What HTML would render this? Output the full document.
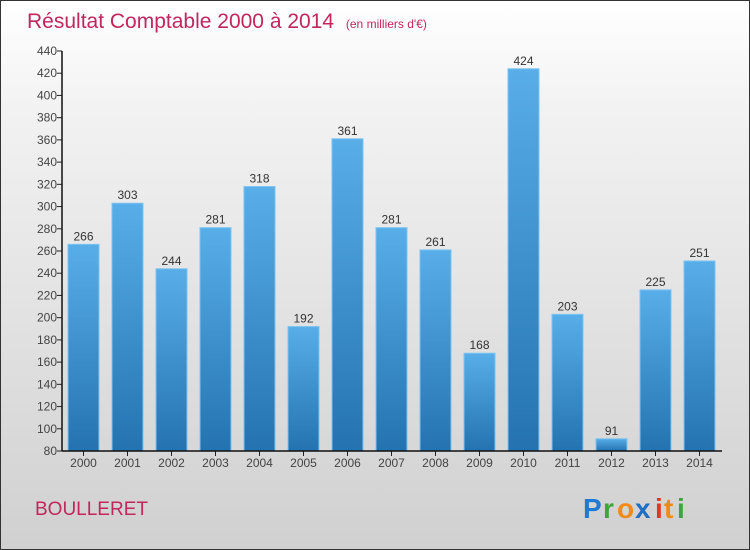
<!DOCTYPE html>
<html><head><meta charset="utf-8"><style>
body{margin:0}
#wrap{position:relative;width:748px;height:548px;border:1px solid #333;background:linear-gradient(#ffffff,#f2f2f2 20%,#d0d0d0);font-family:"Liberation Sans",sans-serif;overflow:hidden}
svg{position:absolute;left:0;top:0}
</style></head><body>
<div id="wrap">
<svg id="c" width="750" height="550">
<defs><linearGradient id="bg" x1="0" y1="0" x2="0" y2="1"><stop offset="0" stop-color="#58aee9"/><stop offset="1" stop-color="#2473b0"/></linearGradient></defs>
<text x="26" y="27" font-size="21" fill="#c0275d">Résultat Comptable 2000 à 2014 <tspan font-size="12" dx="6">(en milliers d'€)</tspan></text>
<text x="34" y="514" font-size="19" fill="#c0275d">BOULLERET</text>
<g font-size="28" font-weight="bold">
<text x="582" y="517" fill="#1f7ad1">P</text><text x="602" y="517" fill="#3ba63b">r</text><text x="616" y="517" fill="#f08a1b">o</text><text x="634" y="517" fill="#1f6fc4">x</text><text x="654" y="517" fill="#e4361f">i</text><text x="663" y="517" fill="#f08a1b">t</text><text x="676" y="517" fill="#3ba63b">i</text>
</g>
</svg>
</div>
<script>
const years=["2000","2001","2002","2003","2004","2005","2006","2007","2008","2009","2010","2011","2012","2013","2014"];
const values=[266,303,244,281,318,192,361,281,261,168,424,203,91,225,251];
const yTicks=[80,100,120,140,160,180,200,220,240,260,280,300,320,340,360,380,400,420,440];
const svg=document.getElementById('c');const NS='http://www.w3.org/2000/svg';
const y0=450,y1=50,vmin=80,vmax=440;
const ys=v=>y0-(v-vmin)*(y0-y1)/(vmax-vmin);
const xs=i=>82.5+i*44;
function mk(t,a){const e=document.createElementNS(NS,t);for(const k in a)e.setAttribute(k,a[k]);svg.appendChild(e);return e;}
yTicks.forEach(t=>{
 const l=mk('line',{x1:56,x2:61,y1:ys(t),y2:ys(t),stroke:'#222'});
 
 
 const tx=mk('text',{x:56,y:ys(t)+4,'text-anchor':'end','font-size':12,fill:'#444'});tx.textContent=t;
 
 
});
values.forEach((v,i)=>{
 const b=mk('rect',{x:xs(i)-15.5,y:ys(v),width:31,height:y0-ys(v),fill:'url(#bg)',stroke:'#7cc3f0','stroke-width':1});
 
 
 const t=mk('text',{x:xs(i),y:ys(v)-4,'text-anchor':'middle','font-size':12,fill:'#333'});t.textContent=v;
 
 
 const tk=mk('line',{x1:xs(i),x2:xs(i),y1:450,y2:455,stroke:'#222'});
 
 
 const xl=mk('text',{x:xs(i),y:466,'text-anchor':'middle','font-size':12,fill:'#444'});xl.textContent=years[i];
 
 
});
const ya=mk('line',{x1:61,x2:61,y1:50,y2:450,stroke:'#111','stroke-width':1.5});


const xa=mk('line',{x1:61,x2:721,y1:450,y2:450,stroke:'#111','stroke-width':1.5});


</script>
</body></html>
